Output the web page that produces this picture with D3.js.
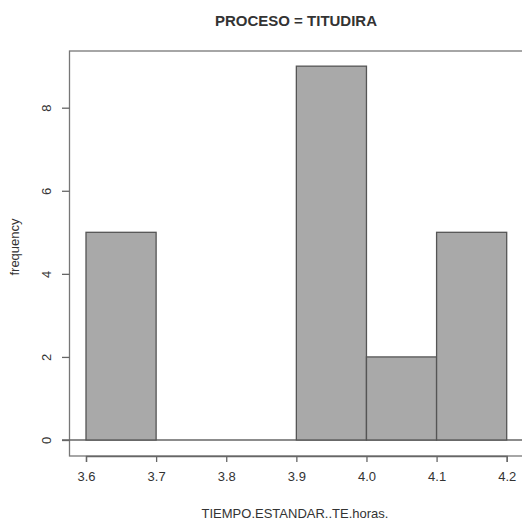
<!DOCTYPE html>
<html>
<head>
<meta charset="utf-8">
<script src="https://cdn.jsdelivr.net/npm/d3@7/dist/d3.min.js"></script>
<style>
  html, body { margin: 0; padding: 0; background: #fff; }
  svg { display: block; }
  text { font-family: "Liberation Sans", Arial, sans-serif; fill: #333; }
</style>
</head>
<body>
<svg id="chart" width="522" height="523"></svg>
<script>
// Histogram of standard time (hours) for process TITUDIRA
const breaks = [3.6, 3.7, 3.8, 3.9, 4.0, 4.1, 4.2];
const counts = [5, 0, 0, 9, 2, 5];
const xTicks = [3.6, 3.7, 3.8, 3.9, 4.0, 4.1, 4.2];
const yTicks = [0, 2, 4, 6, 8];
const title = "PROCESO = TITUDIRA";
const xLabel = "TIEMPO.ESTANDAR..TE.horas.";
const yLabel = "frequency";

const W = 522, H = 523;
const plot = { left: 69.5, top: 51, right: 540, bottom: 456 };

const svg = d3.select("#chart");

const x = d3.scaleLinear().domain([3.6, 4.2]).range([86, 506.7]);
const y = d3.scaleLinear().domain([0, 8]).range([440, 107.7]);

const bins = counts.map((c, i) => ({ x0: breaks[i], x1: breaks[i + 1], n: c }));

// plot box (extends past the right edge)
svg.append("rect")
  .attr("x", plot.left).attr("y", plot.top)
  .attr("width", plot.right - plot.left).attr("height", plot.bottom - plot.top)
  .attr("fill", "none").attr("stroke", "#777").attr("stroke-width", 1.3);

// baseline at zero
svg.append("line")
  .attr("x1", 62).attr("x2", W + 5)
  .attr("y1", y(0)).attr("y2", y(0))
  .attr("stroke", "#666").attr("stroke-width", 1.3);

// bars
svg.append("g").selectAll("rect")
  .data(bins.filter(d => d.n > 0))
  .join("rect")
  .attr("x", d => x(d.x0))
  .attr("y", d => y(d.n))
  .attr("width", d => x(d.x1) - x(d.x0))
  .attr("height", d => y(0) - y(d.n))
  .attr("fill", "#a9a9a9")
  .attr("stroke", "#555")
  .attr("stroke-width", 1.3);

// x axis
const xAxis = d3.axisBottom(x).tickValues(xTicks).tickFormat(d3.format(".1f"))
  .tickSize(6).tickPadding(10);
const gx = svg.append("g").attr("transform", `translate(0,${plot.bottom})`).call(xAxis);
gx.select(".domain").attr("stroke", "#666").attr("stroke-width", 1.3);
gx.selectAll(".tick line").attr("stroke", "#666").attr("stroke-width", 1.3);
gx.selectAll(".tick text").attr("font-size", 13).attr("fill", "#444")
  .attr("font-family", "Liberation Sans, Arial, sans-serif");

// y axis (ticks only, labels rotated)
const yAxis = d3.axisLeft(y).tickValues(yTicks).tickSize(7.5).tickFormat(d3.format("d"));
const gy = svg.append("g").attr("transform", `translate(${plot.left},0)`).call(yAxis);
gy.select(".domain").remove();
gy.selectAll(".tick line").attr("stroke", "#666").attr("stroke-width", 1.3);
gy.selectAll(".tick text")
  .attr("x", 0)
  .attr("text-anchor", "middle")
  .attr("transform", "translate(-23,0) rotate(-90)")
  .attr("dy", "0.35em")
  .attr("font-size", 13).attr("fill", "#444")
  .attr("font-family", "Liberation Sans, Arial, sans-serif");

// title
svg.append("text")
  .attr("x", 296).attr("y", 26)
  .attr("text-anchor", "middle")
  .attr("font-size", 15).attr("font-weight", "bold")
  .attr("fill", "#222")
  .text(title);

// axis titles
svg.append("text")
  .attr("x", 295).attr("y", 518)
  .attr("text-anchor", "middle")
  .attr("font-size", 13).attr("fill", "#444")
  .text(xLabel);

svg.append("text")
  .attr("transform", `translate(19,247) rotate(-90)`)
  .attr("text-anchor", "middle")
  .attr("font-size", 13).attr("fill", "#444")
  .text(yLabel);
</script>
</body>
</html>
